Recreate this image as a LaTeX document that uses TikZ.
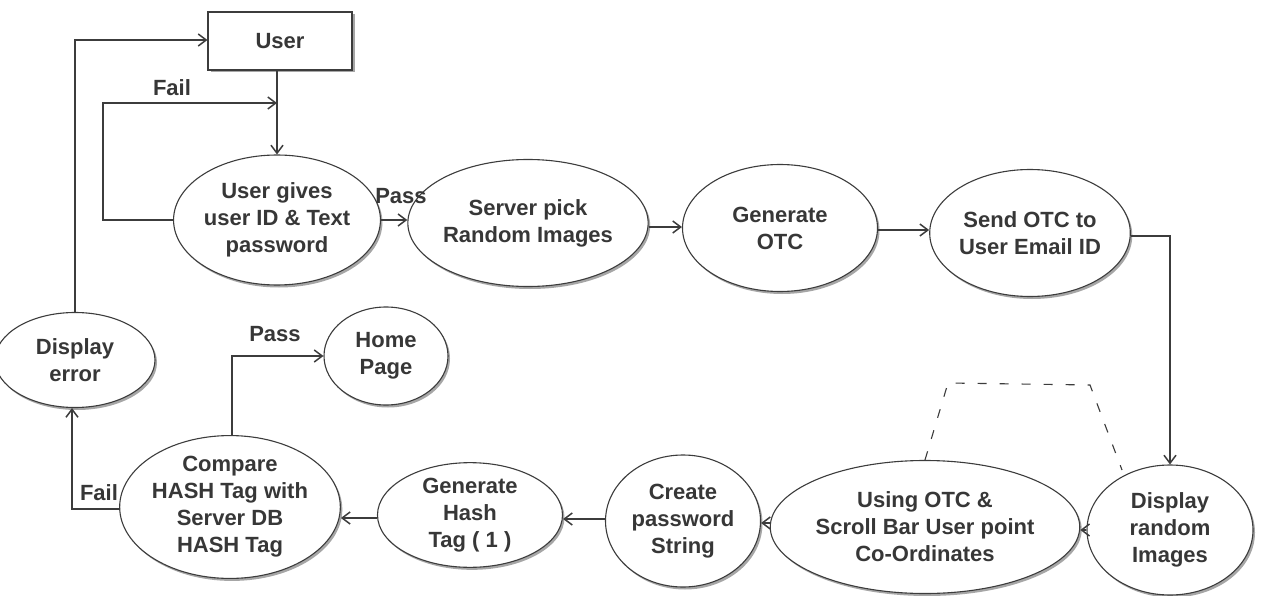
\documentclass[tikz,border=0pt]{standalone}
\usepackage{fontspec}
\setmainfont{Liberation Sans}
\usetikzlibrary{arrows.meta,shadows,shapes.geometric}
\definecolor{ink}{RGB}{60,60,60}
\definecolor{txt}{RGB}{55,55,55}
\begin{document}
\begin{tikzpicture}[x=1pt,y=-1pt,
  every node/.style={font=\fontsize{22}{27}\selectfont\bfseries, text=txt, align=center},
  proc/.style={ellipse, draw=ink, line width=1.1pt, fill=white, inner sep=0pt,
    general shadow={fill=gray!70, shadow xshift=2pt, shadow yshift=-2.5pt}},
  boxnode/.style={rectangle, draw=ink, line width=1.1pt, fill=white, inner sep=0pt,
    general shadow={fill=gray!70, shadow xshift=2.5pt, shadow yshift=-2.5pt}},
  arr/.style={draw=ink, line width=1.1pt, -{Straight Barb[length=8pt,width=12pt,line width=1.5pt]}},
  conn/.style={draw=ink, line width=1.1pt},
  lbl/.style={inner sep=0pt}
]
\useasboundingbox (0,0) rectangle (1261,596);
\fill[white] (0,0) rectangle (1261,596);

% nodes
\node[boxnode, minimum width=144pt, minimum height=58pt] (user) at (280,41) {User};
\node[proc, minimum width=197pt, minimum height=130pt] (gives) at (277,220) {User gives\\user ID \& Text\\password};
\node[proc, minimum width=193pt, minimum height=127pt] (server) at (528,223) {Server pick\\Random Images};
\node[proc, minimum width=195pt, minimum height=127pt] (genotc) at (780,228) {Generate\\OTC};
\node[proc, minimum width=195pt, minimum height=127pt] (send) at (1030,233) {Send OTC to\\User Email ID};
\node[proc, minimum width=166pt, minimum height=130pt] (disp) at (1170,530) {Display\\random\\Images};
\node[proc, minimum width=244pt, minimum height=133pt] (using) at (925,527) {Using OTC \&\\Scroll Bar User point\\Co-Ordinates};
\node[proc, minimum width=155pt, minimum height=132pt] (create) at (683,521) {Create\\password\\String};
\node[proc, minimum width=185pt, minimum height=104pt] (genhash) at (470,515) {Generate\\Hash\\Tag ( 1 )};
\node[proc, minimum width=206pt, minimum height=120pt] (compare) at (230,507) {Compare\\HASH Tag with\\Server DB\\HASH Tag};
\node[proc, minimum width=124pt, minimum height=98pt] (home) at (386,356) {Home\\Page};
\node[proc, minimum width=160pt, minimum height=95pt] (derr) at (75,360) {Display\\error};

% helper coordinates
\coordinate (failj) at (277,103);
\coordinate (d1) at (948,383);
\coordinate (d2) at (1090,385);
\coordinate (d3) at (1122,470);

% connectors
\draw[arr] (gives.north |- user.south) -- (gives.north);
\draw[arr] (gives.west) -- ++(-70,0) |- (failj);
\node[lbl] (lfail1) at (172,88) {Fail};
\draw[arr] (gives.east) -- (gives.east -| server.west);
\node[lbl] (lpass1) at (401,196) {Pass};
\draw[arr] ([yshift=-4pt]server.east) -- ([yshift=-4pt]server.east -| genotc.west);
\draw[arr] ([yshift=-2pt]genotc.east) -- ([yshift=-2pt]genotc.east -| send.west);
\draw[arr] ([yshift=-3pt]send.east) -| (disp.north);
\draw[arr] (disp.west) -- (disp.west -| using.east);
\draw[arr] ([yshift=4pt]using.west) -- ([yshift=4pt]using.west -| create.east);
\draw[arr] ([yshift=2pt]create.west) -- ([yshift=2pt]create.west -| genhash.east);
\draw[arr] ([yshift=-3pt]genhash.west) -- ([yshift=-3pt]genhash.west -| compare.east);
\draw[arr] ([xshift=2pt]compare.north) |- (home.west);
\node[lbl] (lpass2) at (275,334) {Pass};
\draw[arr] ([yshift=-2pt]compare.west) -| ([xshift=-3pt]derr.south);
\node[lbl] (lfail2) at (99,493) {Fail};
\draw[arr] (derr.north) |- ([yshift=1pt]user.west);
\draw[conn, dashed, dash pattern=on 9pt off 13pt] (using.north) -- (d1) -- (d2) -- (d3);
\end{tikzpicture}
\end{document}
